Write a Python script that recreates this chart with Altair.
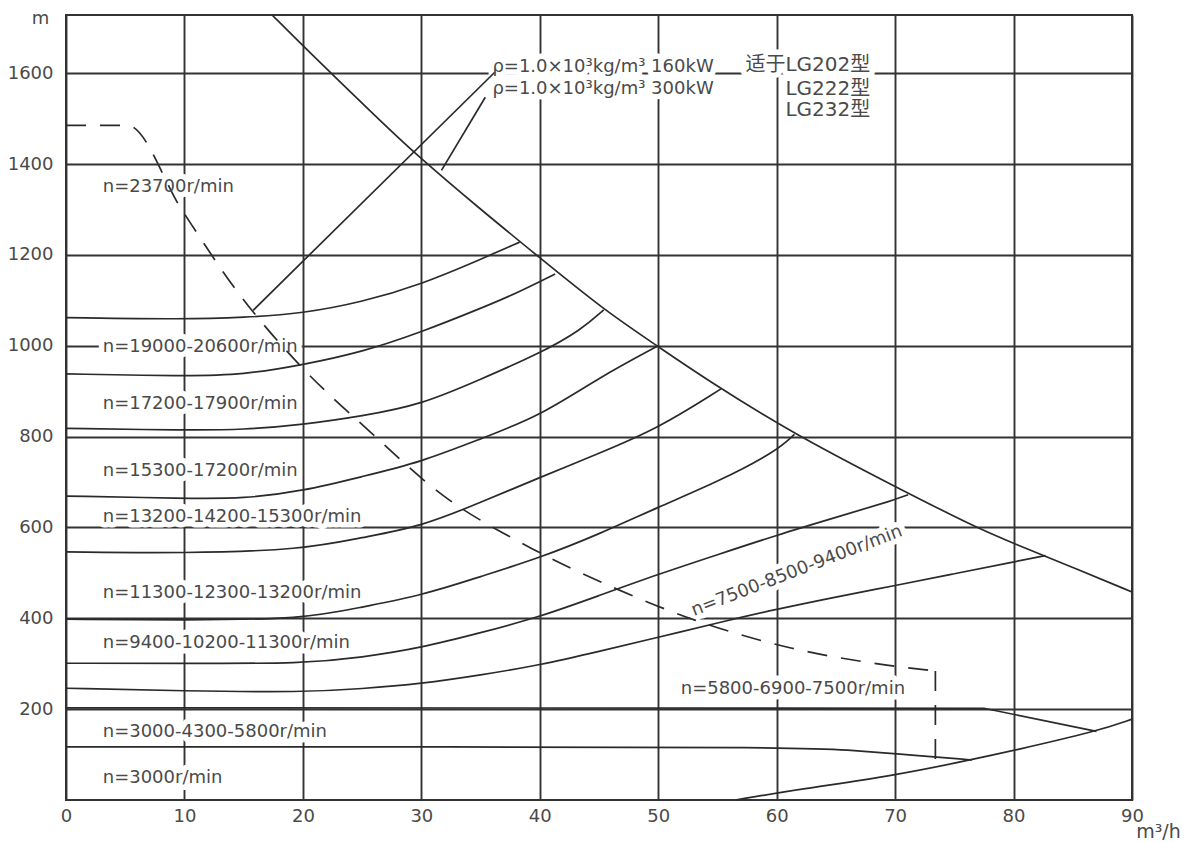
import altair as alt
import pandas as pd

# ---------------- axes ----------------
x_ticks = [0, 10, 20, 30, 40, 50, 60, 70, 80, 90]
y_ticks = [200, 400, 600, 800, 1000, 1200, 1400, 1600]
X_MAX = 90
Y_TOP = 1728

# ---------------- speed curves (flow m3/h, head m) ----------------
a_x = [0, 10, 15, 20, 25, 30, 35, 38.3]
a_y = [1062, 1058, 1062, 1071, 1096, 1135, 1190, 1228]

b_x = [0, 10, 15, 20, 25, 30, 35, 38, 41.3]
b_y = [938, 933, 936, 958, 986, 1030, 1082, 1115, 1158]

c_x = [0, 10, 15, 20, 25, 30, 35, 40, 43.5, 45.4]
c_y = [818, 814, 815, 826, 845, 870, 926, 983, 1035, 1079]

d_x = [0, 10, 15, 20, 25, 30, 35, 40, 45, 50]
d_y = [669, 664, 663, 680, 712, 744, 795, 845, 930, 1000]

e_x = [0, 10, 20, 25, 30, 35, 40, 45, 50, 55.3]
e_y = [546, 543, 551, 578, 602, 655, 710, 763, 818, 905]

f_x = [0, 10, 20, 25, 30, 35, 40, 45, 50, 55, 60, 61.5]
f_y = [398, 396, 398, 425, 450, 492, 533, 585, 645, 700, 768, 805]

g_x = [0, 10, 20, 25, 30, 35, 40, 45, 50, 55, 60, 65, 70, 71.1]
g_y = [301, 301, 300, 314, 335, 368, 403, 450, 497, 540, 583, 622, 661, 672]

h_x = [0, 10, 20, 25, 30, 35, 40, 45, 50, 55, 60, 65, 70, 75, 80, 82.7]
h_y = [246, 240, 237, 245, 256, 275, 297, 327, 358, 390, 420, 447, 472, 498, 524, 538]

n3000_x = [0, 30, 62, 66, 70, 76.5]
n3000_y = [117, 117, 116, 110, 102, 88]

min_flow_x = [56.5, 62, 70, 76.5, 80, 87, 90]
min_flow_y = [0, 24, 54, 89, 109, 151, 178]

limit_x = [17.4, 20, 26.5, 29.5, 35, 39.7, 45.4, 49.9, 54.1, 61.5, 70, 76.8, 80, 85, 90]
limit_y = [1728, 1660, 1496, 1422, 1300, 1200, 1079, 1000, 925, 805, 690, 600, 565, 512, 458]

# straight segments
n5800_x = [0, 77.5, 87]
n5800_y = [203, 202, 151]

kw160_x = [15.8, 36.2]
kw160_y = [1078, 1602]

kw300_x = [31.7, 35.4]
kw300_y = [1386, 1547]

# dashed line (curved part, then vertical drop)
dash_x = [0, 5.2, 9.8, 14.5, 19.6, 25.7, 31.8, 38.8, 46.1, 53.1, 61.3, 69.3, 73.4]
dash_y = [1485, 1485, 1298, 1118, 961, 810, 671, 561, 469, 396, 334, 297, 284]
drop_x = [73.4, 73.4]
drop_y = [284, 77]

# ---------------- labels ----------------
left_text = ["n=23700r/min", "n=19000-20600r/min", "n=17200-17900r/min",
             "n=15300-17200r/min", "n=13200-14200-15300r/min",
             "n=11300-12300-13200r/min", "n=9400-10200-11300r/min",
             "n=3000-4300-5800r/min", "n=3000r/min", "n=5800-6900-7500r/min",
             "ρ=1.0×10³kg/m³ 160kW", "ρ=1.0×10³kg/m³ 300kW"]
left_x = [3.1, 3.1, 3.1, 3.1, 3.1, 3.1, 3.1, 3.1, 3.1, 51.9, 36.0, 36.0]
left_y = [1349, 997, 871, 724, 623, 455, 345, 150, 48, 244, 1613, 1566]

model_text = ["适于LG202型", "LG222型", "LG232型"]
model_x = [67.9, 67.9, 67.9]
model_y = [1619, 1566, 1518]

rot_text = ["n=7500-8500-9400r/min"]
rot_x = [61.7]
rot_y = [504]


def table(series):
    rows = []
    for name, (xs, ys) in series.items():
        for i, (xv, yv) in enumerate(zip(xs, ys)):
            rows.append({"name": name, "x": xv, "y": yv, "i": i})
    return pd.DataFrame(rows)


smooth_df = table({"A": (a_x, a_y), "B": (b_x, b_y), "C": (c_x, c_y), "D": (d_x, d_y),
                   "E": (e_x, e_y), "F": (f_x, f_y), "G": (g_x, g_y), "H": (h_x, h_y),
                   "n3000": (n3000_x, n3000_y), "minflow": (min_flow_x, min_flow_y),
                   "limit": (limit_x, limit_y)})
straight_df = table({"n5800": (n5800_x, n5800_y), "kw160": (kw160_x, kw160_y),
                     "kw300": (kw300_x, kw300_y)})
dash_df = table({"dash": (dash_x, dash_y), "drop": (drop_x, drop_y)})

left_df = pd.DataFrame({"t": left_text, "x": left_x, "y": left_y})
model_df = pd.DataFrame({"t": model_text, "x": model_x, "y": model_y})
rot_df = pd.DataFrame({"t": rot_text, "x": rot_x, "y": rot_y})

LINE = "#2a2a2a"
GRID = "#333333"
TEXT = "#4a4a4a"
FONT = "DejaVu Sans, Noto Sans CJK SC"

X = alt.X("x:Q", scale=alt.Scale(domain=[0, X_MAX], nice=False, zero=False),
          axis=alt.Axis(values=x_ticks, grid=True, ticks=False, domain=False,
                        labelFlush=False, labelOverlap=False, labelPadding=7,
                        format="d", title="m³/h", titleX=1092, titleY=37,
                        titleAlign="center", titleBaseline="alphabetic",
                        titleFontSize=19, titleFontWeight="normal"))
Y = alt.Y("y:Q", scale=alt.Scale(domain=[0, Y_TOP], nice=False, zero=False),
          axis=alt.Axis(values=y_ticks, grid=True, ticks=False, domain=False,
                        labelFlush=False, labelOverlap=False, labelPadding=13,
                        format="d", title="m", titleAngle=0, titleX=-26, titleY=3,
                        titleAlign="center", titleBaseline="middle",
                        titleFontSize=18, titleFontWeight="normal"))


def halo(df, **kw):
    return alt.Chart(df).mark_text(font=FONT, fill="white", stroke="white",
                                   strokeWidth=11, strokeJoin="round", **kw).encode(
        x="x:Q", y="y:Q", text="t:N")


def label(df, **kw):
    return alt.Chart(df).mark_text(font=FONT, color=TEXT, **kw).encode(
        x="x:Q", y="y:Q", text="t:N")


smooth = alt.Chart(smooth_df).mark_line(interpolate="basis", color=LINE, strokeWidth=1.7).encode(
    x=X, y=Y, detail="name:N", order="i:Q")
straight = alt.Chart(straight_df).mark_line(color=LINE, strokeWidth=1.7).encode(
    x="x:Q", y="y:Q", detail="name:N", order="i:Q")
dashed = alt.Chart(dash_df).mark_line(interpolate="monotone", color=LINE, strokeWidth=1.7,
                                      strokeDash=[20, 14]).encode(
    x="x:Q", y="y:Q", detail="name:N", order="i:Q")

chart = alt.layer(
    halo(left_df, align="left", baseline="middle", fontSize=18),
    halo(model_df, align="right", baseline="middle", fontSize=20),
    halo(rot_df, align="center", baseline="middle", fontSize=18, angle=339),
    smooth, straight, dashed,
    label(left_df, align="left", baseline="middle", fontSize=18),
    label(model_df, align="right", baseline="middle", fontSize=20),
    label(rot_df, align="center", baseline="middle", fontSize=18, angle=339),
).properties(
    width=1066, height=785,
    autosize=alt.AutoSizeParams(type="none"),
    padding={"left": 58, "top": 7, "right": 50, "bottom": 40},
    background="white",
).configure_view(
    stroke=GRID, strokeWidth=2
).configure_axis(
    gridColor=GRID, gridWidth=1.9, gridOpacity=1,
    labelFont="DejaVu Sans", labelFontSize=18, labelColor=TEXT,
    titleFont="DejaVu Sans", titleColor=TEXT,
)

chart.save("out.html", embed_options={"renderer": "svg", "actions": False})
